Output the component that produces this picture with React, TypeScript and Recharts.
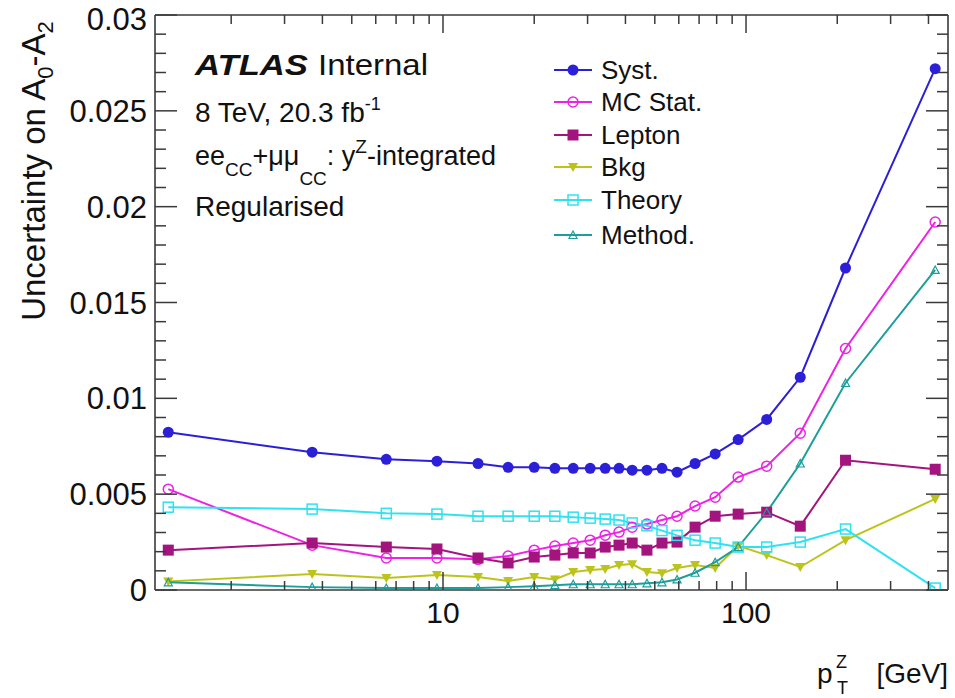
import { LineChart, Line, XAxis, YAxis } from "recharts";

// pT^Z bin centres [GeV]
const ptZ = [1.24, 3.7, 6.5, 9.55, 13.05, 16.4, 20, 23.4, 26.9, 30.6, 34.3, 38.1, 42.1, 47.1, 52.8, 59.2, 67.9, 79.1, 94.2, 117, 151, 213, 421];

const syst = [0.00823, 0.00719, 0.00682, 0.00672, 0.0066, 0.0064, 0.0064, 0.00635, 0.00635, 0.00635, 0.00635, 0.00635, 0.00625, 0.00625, 0.00635, 0.00615, 0.0066, 0.0071, 0.00785, 0.0089, 0.0111, 0.0168, 0.0272];
const mcStat = [0.00526, 0.00234, 0.00167, 0.00167, 0.0016, 0.00177, 0.00208, 0.00229, 0.00245, 0.0026, 0.00286, 0.00302, 0.00328, 0.00344, 0.00365, 0.00385, 0.00438, 0.00484, 0.00589, 0.00646, 0.00818, 0.0126, 0.0192];
const lepton = [0.00208, 0.00245, 0.00224, 0.00214, 0.00167, 0.00141, 0.00172, 0.00182, 0.00193, 0.00193, 0.00224, 0.00234, 0.00245, 0.00208, 0.00245, 0.0025, 0.00328, 0.00385, 0.00396, 0.00406, 0.00333, 0.00677, 0.0063];
const bkg = [0.00045, 0.00083, 0.00062, 0.00078, 0.00068, 0.00047, 0.00068, 0.00055, 0.00094, 0.00104, 0.0011, 0.0013, 0.00135, 0.00094, 0.00088, 0.00115, 0.0013, 0.00115, 0.0023, 0.00182, 0.0012, 0.0026, 0.00475];
const theory = [0.00432, 0.00422, 0.004, 0.00396, 0.00385, 0.00385, 0.00385, 0.00385, 0.0038, 0.00375, 0.0037, 0.00365, 0.0035, 0.00335, 0.0031, 0.00285, 0.0026, 0.00245, 0.00224, 0.00224, 0.0025, 0.00318, 0.0001];
const method = [0.0004, 0.00015, 0.0001, 0.0001, 0.0001, 0.00015, 0.0002, 0.00025, 0.0003, 0.0003, 0.0003, 0.0003, 0.0003, 0.00035, 0.0004, 0.00055, 0.0009, 0.00145, 0.00224, 0.00406, 0.0066, 0.0108, 0.0167];

const X_TICKS = [2, 3, 4, 5, 6, 7, 8, 9, 10, 20, 30, 40, 50, 60, 70, 80, 90, 100, 200, 300, 400];
const X_MAJOR = [10, 100];
const Y_TICKS = Array.from({ length: 31 }, (_, i) => i / 1000);

type Shape = "circle" | "openCircle" | "square" | "triDown" | "openSquare" | "openTriUp";

const SERIES: { key: string; name: string; color: string; shape: Shape; values: number[] }[] = [
  { key: "syst", name: "Syst.", color: "#2b1fd8", shape: "circle", values: syst },
  { key: "mcStat", name: "MC Stat.", color: "#ee22e4", shape: "openCircle", values: mcStat },
  { key: "lepton", name: "Lepton", color: "#a3147e", shape: "square", values: lepton },
  { key: "bkg", name: "Bkg", color: "#bcc41c", shape: "triDown", values: bkg },
  { key: "theory", name: "Theory", color: "#2fe2f0", shape: "openSquare", values: theory },
  { key: "method", name: "Method.", color: "#1c9e9a", shape: "openTriUp", values: method },
];

const FONT = '"Liberation Sans", Arial, Helvetica, sans-serif';
const FRAME = "#3a3a3a";

const data = ptZ.map((x, i) => {
  const row: Record<string, number> = { x };
  SERIES.forEach((s) => (row[s.key] = s.values[i]));
  return row;
});

function Marker({ cx, cy, shape, color }: { cx: number; cy: number; shape: Shape; color: string }) {
  if (cx == null || cy == null) return null;
  switch (shape) {
    case "circle":
      return <circle cx={cx} cy={cy} r={5.5} fill={color} />;
    case "openCircle":
      return <circle cx={cx} cy={cy} r={5} fill="none" stroke={color} strokeWidth={1.5} />;
    case "square":
      return <rect x={cx - 5.5} y={cy - 5.5} width={11} height={11} fill={color} />;
    case "triDown":
      return <polygon points={`${cx - 5},${cy - 4} ${cx + 5},${cy - 4} ${cx},${cy + 5}`} fill={color} />;
    case "openSquare":
      return <rect x={cx - 5} y={cy - 5} width={10} height={10} fill="none" stroke={color} strokeWidth={1.5} />;
    default:
      return <polygon points={`${cx - 4},${cy + 3.5} ${cx + 4},${cy + 3.5} ${cx},${cy - 4}`} fill="none" stroke={color} strokeWidth={1.2} />;
  }
}

function XTick(props: any) {
  const { x, y, payload, side } = props;
  const v = payload.value;
  const major = X_MAJOR.includes(v);
  const len = major ? 18 : 9;
  const dir = side === "bottom" ? -1 : 1;
  return (
    <g>
      <line x1={x} y1={y} x2={x} y2={y + dir * len} stroke={FRAME} strokeWidth={1.5} />
      {side === "bottom" && major && (
        <text x={x} y={y + 33} textAnchor="middle" fontSize={30} fontFamily={FONT} fill="#111">
          {v}
        </text>
      )}
    </g>
  );
}

function YTick(props: any) {
  const { x, y, payload, side } = props;
  const v = payload.value;
  const major = Math.round(v * 1000) % 5 === 0;
  const len = major ? 22 : 11;
  const dir = side === "left" ? 1 : -1;
  // ROOT keeps the topmost label inside the canvas
  const baseline = Math.max(y + 11, 30);
  return (
    <g>
      <line x1={x} y1={y} x2={x + dir * len} y2={y} stroke={FRAME} strokeWidth={1.5} />
      {side === "left" && major && (
        <text x={x - 8} y={baseline} textAnchor="end" fontSize={31} fontFamily={FONT} fill="#111">
          {String(v)}
        </text>
      )}
    </g>
  );
}

const LEGEND_ROWS = [70, 102, 135, 167, 200, 235];

function Overlay() {
  return (
    <svg width={955} height={698} style={{ position: "absolute", left: 0, top: 0, pointerEvents: "none" }} fontFamily={FONT}>
      {/* y axis title */}
      <text transform="translate(45,171) rotate(-90)" textAnchor="middle" fontSize={33} fill="#111">
        Uncertainty on A<tspan fontSize={22} dy={8}>0</tspan>
        <tspan dy={-8}>-A</tspan>
        <tspan fontSize={22} dy={8}>2</tspan>
      </text>

      {/* x axis title */}
      <text x={817} y={683} fontSize={28} fill="#111">p</text>
      <text x={836} y={668} fontSize={18} fill="#111">Z</text>
      <text x={837} y={694} fontSize={18} fill="#111">T</text>
      <text x={948} y={683} textAnchor="end" fontSize={28} fill="#111">[GeV]</text>

      {/* labels */}
      <text x={195} y={75} fontSize={29} fontWeight="bold" fontStyle="italic" fill="#111" textLength={113} lengthAdjust="spacingAndGlyphs">
        ATLAS
      </text>
      <text x={318} y={75} fontSize={29} fill="#111" textLength={110} lengthAdjust="spacingAndGlyphs">
        Internal
      </text>
      <text x={195} y={122} fontSize={28} fill="#111">
        8 TeV, 20.3 fb<tspan fontSize={18} dy={-12}>-1</tspan>
      </text>
      <text x={195} y={165} fontSize={27} fill="#111">
        ee<tspan fontSize={19} dy={11}>CC</tspan>
        <tspan dy={-11}>+μμ</tspan>
        <tspan fontSize={19} dy={20}>CC</tspan>
        <tspan dy={-20}>: y</tspan>
        <tspan fontSize={19} dy={-12}>Z</tspan>
        <tspan dy={12}>-integrated</tspan>
      </text>
      <text x={195} y={216} fontSize={28} fill="#111">Regularised</text>

      {/* legend */}
      {SERIES.map((s, i) => (
        <g key={s.key}>
          <line x1={554} y1={LEGEND_ROWS[i]} x2={592} y2={LEGEND_ROWS[i]} stroke={s.color} strokeWidth={2} />
          <Marker cx={573} cy={LEGEND_ROWS[i]} shape={s.shape} color={s.color} />
          <text x={601} y={LEGEND_ROWS[i] + 9} fontSize={26} fill="#111">
            {s.name}
          </text>
        </g>
      ))}
    </svg>
  );
}

const axisLine = { stroke: FRAME, strokeWidth: 1.6 };

export default function App() {
  return (
    <div style={{ position: "absolute", left: 0, top: 0, width: 955, height: 698, background: "#fff" }}>
      <LineChart width={955} height={698} data={data} margin={{ top: 14, right: 6, bottom: 107, left: 154 }}>
        <XAxis
          dataKey="x"
          type="number"
          scale="log"
          domain={[1.121, 464]}
          allowDataOverflow
          ticks={X_TICKS}
          interval={0}
          height={1}
          tickSize={0}
          tickMargin={0}
          tickLine={false}
          axisLine={axisLine}
          tick={<XTick side="bottom" />}
        />
        <XAxis
          xAxisId="top"
          orientation="top"
          dataKey="x"
          type="number"
          scale="log"
          domain={[1.121, 464]}
          allowDataOverflow
          ticks={X_TICKS}
          interval={0}
          height={1}
          tickSize={0}
          tickMargin={0}
          tickLine={false}
          axisLine={axisLine}
          tick={<XTick side="top" />}
        />
        <YAxis
          type="number"
          domain={[0, 0.03]}
          allowDataOverflow
          ticks={Y_TICKS}
          interval={0}
          width={1}
          tickSize={0}
          tickMargin={0}
          tickLine={false}
          axisLine={axisLine}
          tick={<YTick side="left" />}
        />
        <YAxis
          yAxisId="right"
          orientation="right"
          type="number"
          domain={[0, 0.03]}
          allowDataOverflow
          ticks={Y_TICKS}
          interval={0}
          width={1}
          tickSize={0}
          tickMargin={0}
          tickLine={false}
          axisLine={axisLine}
          tick={<YTick side="right" />}
        />
        {SERIES.map((s) => (
          <Line
            key={s.key}
            dataKey={s.key}
            name={s.name}
            stroke={s.color}
            strokeWidth={2}
            isAnimationActive={false}
            dot={(p: any) => <Marker key={`${s.key}-${p.index}`} cx={p.cx} cy={p.cy} shape={s.shape} color={s.color} />}
            activeDot={false}
          />
        ))}
      </LineChart>
      <Overlay />
    </div>
  );
}
